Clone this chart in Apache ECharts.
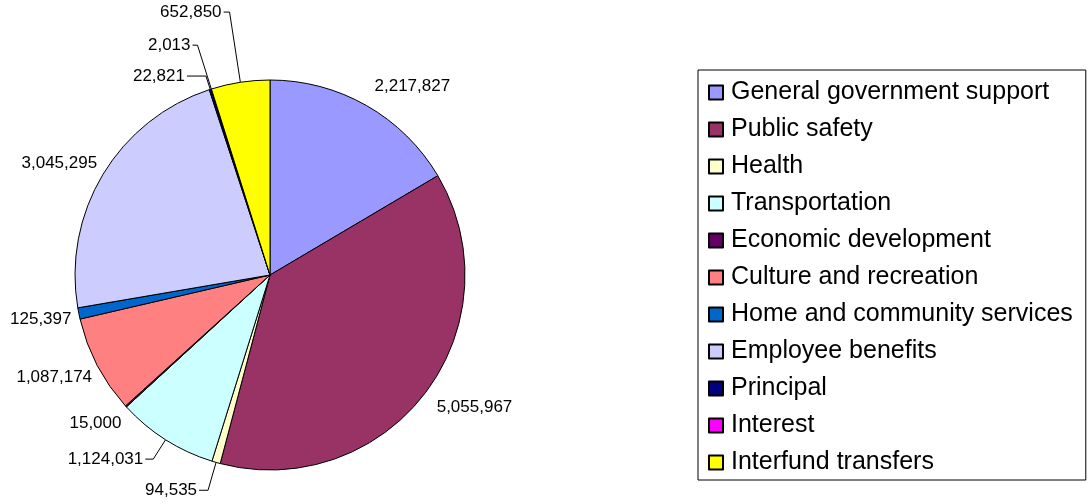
<!DOCTYPE html>
<html>
<head>
<meta charset="utf-8">
<script src="https://cdn.jsdelivr.net/npm/echarts@6/dist/echarts.min.js"></script>
<style>
  html, body { margin: 0; padding: 0; background: #fff; }
  #chart { width: 1092px; height: 504px; }
</style>
</head>
<body>
<div id="chart"></div>
<script>
    // categories and values
    var categories = ['General government support', 'Public safety', 'Health', 'Transportation',
        'Economic development', 'Culture and recreation', 'Home and community services',
        'Employee benefits', 'Principal', 'Interest', 'Interfund transfers'];
    var values = [2217827, 5055967, 94535, 1124031, 15000, 1087174, 125397, 3045295, 22821, 2013, 652850];
    var colors = ['#9999FF', '#993366', '#FFFFCC', '#CCFFFF', '#660066', '#FF8080', '#0066CC',
        '#CCCCFF', '#000080', '#FF00FF', '#FFFF00'];

    // label placement per slice: [length, length2, show line]
    var labelLines = {
        'General government support': [22, -5, false],
        'Public safety': [24, -10, false],
        'Health': [29, 9, true],
        'Transportation': [23, 8, true],
        'Economic development': [25, -16, false],
        'Culture and recreation': [25, -19, false],
        'Home and community services': [32, -26, false],
        'Employee benefits': [22, -15, false],
        'Principal': [14, 19, true],
        'Interest': [46, 5, true],
        'Interfund transfers': [71, 6, true]
    };

    var data = [];
    for (var i = 0; i < categories.length; i++) {
        var ll = labelLines[categories[i]];
        data.push({
            name: categories[i],
            value: values[i],
            labelLine: { show: ll[2], length: ll[0], length2: ll[1] }
        });
    }

    var myChart = echarts.init(document.getElementById('chart'));
    var option = {
        animation: false,
        color: colors,
        legend: {
            orient: 'vertical',
            left: 698,
            top: 70,
            padding: [10, 13, 5, 10],
            borderColor: '#000',
            borderWidth: 1,
            itemWidth: 14,
            itemHeight: 14,
            itemGap: 12,
            icon: 'rect',
            textStyle: { fontFamily: 'Liberation Sans', fontSize: 25, color: '#000', padding: [0, 0, 0, 3] },
            data: categories
        },
        series: [{
            type: 'pie',
            center: [270, 275],
            radius: 195,
            startAngle: 90,
            clockwise: true,
            avoidLabelOverlap: false,
            itemStyle: { borderColor: '#000', borderWidth: 1 },
            label: {
                formatter: function (p) { return p.value.toLocaleString('en-US'); },
                fontFamily: 'Liberation Sans',
                fontSize: 17,
                color: '#000',
                overflow: 'none',
                distanceToLabelLine: 2
            },
            labelLine: {
                lineStyle: { color: '#000', width: 1 }
            },
            emphasis: { disabled: true },
            data: data
        }]
    };
    myChart.setOption(option);
</script>
</body>
</html>
